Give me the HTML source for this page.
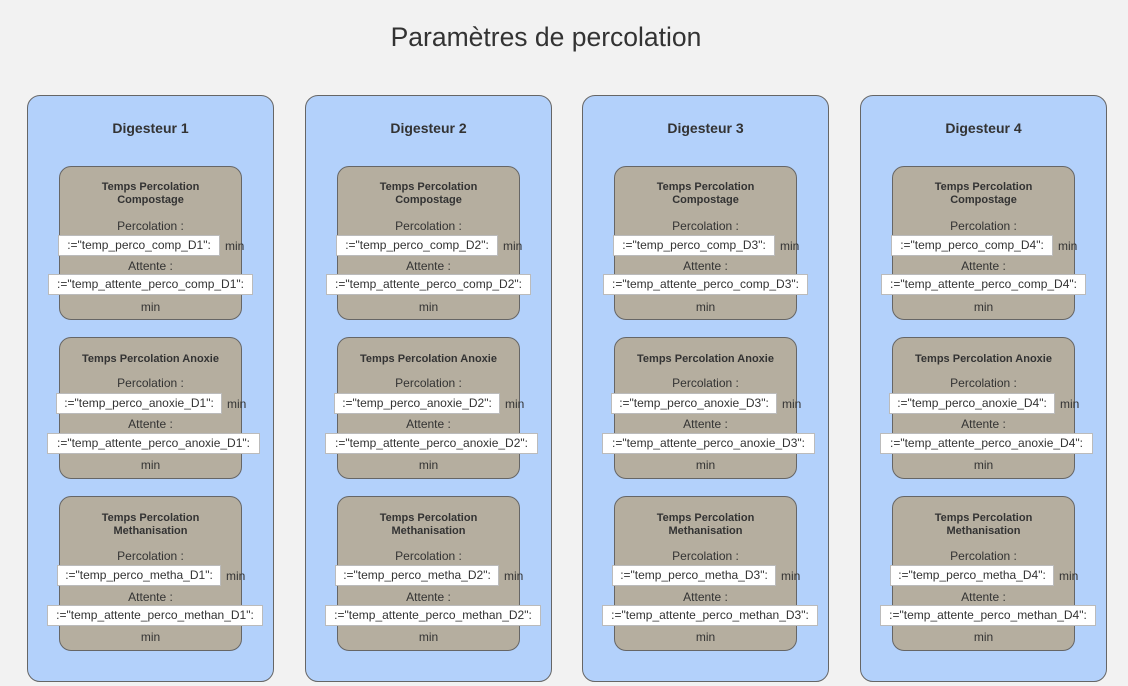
<!DOCTYPE html>
<html><head><meta charset="utf-8"><style>
body{margin:0;width:1128px;height:686px;background:#f2f2f2;font-family:"Liberation Sans",Arial,sans-serif;position:relative;overflow:hidden;color:#333}
.t{position:absolute;left:0;width:1092px;top:22px;text-align:center;font-size:26.5px;color:#333}
.col{position:absolute;top:95px;width:247px;height:587px;background:#b3d1fb;border:1px solid #666;border-radius:13px;box-sizing:border-box}
.h{position:absolute;top:24px;left:0;width:100%;text-align:center;font-weight:bold;font-size:14px;line-height:16px;color:#333}
.b{position:absolute;left:31px;width:183px;background:#b5ae9f;border:1px solid #666;border-radius:12px;box-sizing:border-box}
.l{position:absolute;left:0;width:100%;text-align:center;font-size:12px;line-height:14px;color:#333;white-space:nowrap}
.bt{font-weight:bold;font-size:11px;line-height:13px}
.i{position:absolute;background:#fff;border:1px solid #bbb;font-size:12px;line-height:19px;height:19px;text-align:center;color:#333;white-space:nowrap;box-sizing:content-box}
.m{position:absolute;font-size:12px;line-height:14px;color:#333}
</style></head><body>
<div class="t">Paramètres de percolation</div>

<div class="col" style="left:27px">
<div class="h">Digesteur 1</div>
<div class="b" style="top:70px;height:154px">
<div class="l bt" style="top:14px">Temps Percolation<br>Compostage</div>
<div class="l" style="top:52px">Percolation :</div>
<div class="i" style="top:68px;left:-2px;width:160px">:="temp_perco_comp_D1":</div><div class="m" style="top:72px;left:165px">min</div>
<div class="l" style="top:92px">Attente :</div>
<div class="i" style="top:107px;left:-12px;width:203px">:="temp_attente_perco_comp_D1":</div>
<div class="l" style="top:133px">min</div>
</div>
<div class="b" style="top:241px;height:142px">
<div class="l bt" style="top:15px">Temps Percolation Anoxie</div>
<div class="l" style="top:38px">Percolation :</div>
<div class="i" style="top:55px;left:-4px;width:164px">:="temp_perco_anoxie_D1":</div><div class="m" style="top:59px;left:167px">min</div>
<div class="l" style="top:79px">Attente :</div>
<div class="i" style="top:95px;left:-13px;width:211px">:="temp_attente_perco_anoxie_D1":</div>
<div class="l" style="top:120px">min</div>
</div>
<div class="b" style="top:400px;height:155px">
<div class="l bt" style="top:15px">Temps Percolation<br>Methanisation</div>
<div class="l" style="top:52px">Percolation :</div>
<div class="i" style="top:68px;left:-3px;width:162px">:="temp_perco_metha_D1":</div><div class="m" style="top:72px;left:166px">min</div>
<div class="l" style="top:93px">Attente :</div>
<div class="i" style="top:108px;left:-13px;width:214px">:="temp_attente_perco_methan_D1":</div>
<div class="l" style="top:133px">min</div>
</div>
</div>

<div class="col" style="left:305px">
<div class="h">Digesteur 2</div>
<div class="b" style="top:70px;height:154px">
<div class="l bt" style="top:14px">Temps Percolation<br>Compostage</div>
<div class="l" style="top:52px">Percolation :</div>
<div class="i" style="top:68px;left:-2px;width:160px">:="temp_perco_comp_D2":</div><div class="m" style="top:72px;left:165px">min</div>
<div class="l" style="top:92px">Attente :</div>
<div class="i" style="top:107px;left:-12px;width:203px">:="temp_attente_perco_comp_D2":</div>
<div class="l" style="top:133px">min</div>
</div>
<div class="b" style="top:241px;height:142px">
<div class="l bt" style="top:15px">Temps Percolation Anoxie</div>
<div class="l" style="top:38px">Percolation :</div>
<div class="i" style="top:55px;left:-4px;width:164px">:="temp_perco_anoxie_D2":</div><div class="m" style="top:59px;left:167px">min</div>
<div class="l" style="top:79px">Attente :</div>
<div class="i" style="top:95px;left:-13px;width:211px">:="temp_attente_perco_anoxie_D2":</div>
<div class="l" style="top:120px">min</div>
</div>
<div class="b" style="top:400px;height:155px">
<div class="l bt" style="top:15px">Temps Percolation<br>Methanisation</div>
<div class="l" style="top:52px">Percolation :</div>
<div class="i" style="top:68px;left:-3px;width:162px">:="temp_perco_metha_D2":</div><div class="m" style="top:72px;left:166px">min</div>
<div class="l" style="top:93px">Attente :</div>
<div class="i" style="top:108px;left:-13px;width:214px">:="temp_attente_perco_methan_D2":</div>
<div class="l" style="top:133px">min</div>
</div>
</div>

<div class="col" style="left:582px">
<div class="h">Digesteur 3</div>
<div class="b" style="top:70px;height:154px">
<div class="l bt" style="top:14px">Temps Percolation<br>Compostage</div>
<div class="l" style="top:52px">Percolation :</div>
<div class="i" style="top:68px;left:-2px;width:160px">:="temp_perco_comp_D3":</div><div class="m" style="top:72px;left:165px">min</div>
<div class="l" style="top:92px">Attente :</div>
<div class="i" style="top:107px;left:-12px;width:203px">:="temp_attente_perco_comp_D3":</div>
<div class="l" style="top:133px">min</div>
</div>
<div class="b" style="top:241px;height:142px">
<div class="l bt" style="top:15px">Temps Percolation Anoxie</div>
<div class="l" style="top:38px">Percolation :</div>
<div class="i" style="top:55px;left:-4px;width:164px">:="temp_perco_anoxie_D3":</div><div class="m" style="top:59px;left:167px">min</div>
<div class="l" style="top:79px">Attente :</div>
<div class="i" style="top:95px;left:-13px;width:211px">:="temp_attente_perco_anoxie_D3":</div>
<div class="l" style="top:120px">min</div>
</div>
<div class="b" style="top:400px;height:155px">
<div class="l bt" style="top:15px">Temps Percolation<br>Methanisation</div>
<div class="l" style="top:52px">Percolation :</div>
<div class="i" style="top:68px;left:-3px;width:162px">:="temp_perco_metha_D3":</div><div class="m" style="top:72px;left:166px">min</div>
<div class="l" style="top:93px">Attente :</div>
<div class="i" style="top:108px;left:-13px;width:214px">:="temp_attente_perco_methan_D3":</div>
<div class="l" style="top:133px">min</div>
</div>
</div>

<div class="col" style="left:860px">
<div class="h">Digesteur 4</div>
<div class="b" style="top:70px;height:154px">
<div class="l bt" style="top:14px">Temps Percolation<br>Compostage</div>
<div class="l" style="top:52px">Percolation :</div>
<div class="i" style="top:68px;left:-2px;width:160px">:="temp_perco_comp_D4":</div><div class="m" style="top:72px;left:165px">min</div>
<div class="l" style="top:92px">Attente :</div>
<div class="i" style="top:107px;left:-12px;width:203px">:="temp_attente_perco_comp_D4":</div>
<div class="l" style="top:133px">min</div>
</div>
<div class="b" style="top:241px;height:142px">
<div class="l bt" style="top:15px">Temps Percolation Anoxie</div>
<div class="l" style="top:38px">Percolation :</div>
<div class="i" style="top:55px;left:-4px;width:164px">:="temp_perco_anoxie_D4":</div><div class="m" style="top:59px;left:167px">min</div>
<div class="l" style="top:79px">Attente :</div>
<div class="i" style="top:95px;left:-13px;width:211px">:="temp_attente_perco_anoxie_D4":</div>
<div class="l" style="top:120px">min</div>
</div>
<div class="b" style="top:400px;height:155px">
<div class="l bt" style="top:15px">Temps Percolation<br>Methanisation</div>
<div class="l" style="top:52px">Percolation :</div>
<div class="i" style="top:68px;left:-3px;width:162px">:="temp_perco_metha_D4":</div><div class="m" style="top:72px;left:166px">min</div>
<div class="l" style="top:93px">Attente :</div>
<div class="i" style="top:108px;left:-13px;width:214px">:="temp_attente_perco_methan_D4":</div>
<div class="l" style="top:133px">min</div>
</div>
</div>
</body></html>
